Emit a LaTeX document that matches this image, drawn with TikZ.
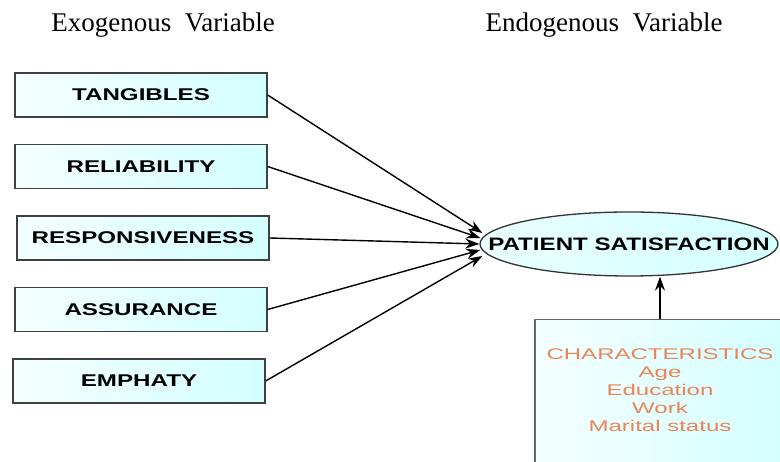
\documentclass[tikz,border=0pt]{standalone}
\usepackage{fontspec}
\setmainfont{Liberation Serif}
\setsansfont{Liberation Sans}
\usetikzlibrary{shapes.geometric, arrows.meta}
\definecolor{charorange}{RGB}{236,132,88}
\newcommand{\wider}[2]{\scalebox{#1}[1]{#2}}
\tikzstyle{header} = [font=\fontsize{27}{30}\selectfont, anchor=base]
\tikzstyle{factor} = [rectangle, text centered, draw=black!75, line width=1.3pt, left color=cyan!4, right color=cyan!17, minimum width=252pt, minimum height=44pt, font=\sffamily\bfseries\fontsize{17}{20}\selectfont]
\tikzstyle{outcome} = [ellipse, text centered, draw=black!80, line width=1.3pt, left color=cyan!8, right color=cyan!17, minimum width=298pt, minimum height=64pt, inner sep=0pt, font=\sffamily\bfseries\fontsize{18}{21}\selectfont]
\tikzstyle{covar} = [rectangle, draw=black!60, line width=1.3pt, left color=cyan!4, right color=cyan!17, minimum width=250pt, minimum height=145pt, text=charorange, font=\sffamily\fontsize{15.5}{18}\selectfont]
\tikzstyle{arrow} = [line width=1.4pt, -{Stealth[length=14pt,width=10pt]}]

\begin{document}
\begin{tikzpicture}[x=1pt, y=1pt, node distance=71.5pt]
\clip (0,0) rectangle (780,462);

\node (exo) [header] at (163,430) {Exogenous\hspace{0.5em}Variable};
\node (endo) [header] at (604,430) {Endogenous\hspace{0.5em}Variable};

\node (tang) [factor] at (141,367) {\wider{1.42}{TANGIBLES}};
\node (reli) [factor, below of=tang] {\wider{1.42}{RELIABILITY}};
\node (resp) [factor, below of=reli, xshift=2pt] {\wider{1.42}{RESPONSIVENESS}};
\node (assu) [factor, below of=resp, xshift=-2pt] {\wider{1.42}{ASSURANCE}};
\node (emph) [factor, below of=assu, xshift=-2pt] {\wider{1.42}{EMPHATY}};

\node (satis) [outcome] at (629,218) {\makebox[0pt]{\wider{1.34}{PATIENT SATISFACTION}}};
\node (chars) [covar] at (660,70) {\wider{1.55}{\begin{tabular}{@{}c@{}}CHARACTERISTICS\\Age\\Education\\Work\\Marital status\end{tabular}}};

\draw [arrow] (tang.east) -- ([xshift=3pt,yshift=11pt]satis.west);
\draw [arrow] (reli.east) -- ([xshift=1pt,yshift=6pt]satis.west);
\draw [arrow] (resp.east) -- (satis.west);
\draw [arrow] (assu.east) -- ([xshift=1pt,yshift=-6pt]satis.west);
\draw [arrow] (emph.east) -- ([xshift=3pt,yshift=-12pt]satis.west);

\draw [arrow] (chars.north) -- (chars.north |- satis.south);

\end{tikzpicture}
\end{document}
